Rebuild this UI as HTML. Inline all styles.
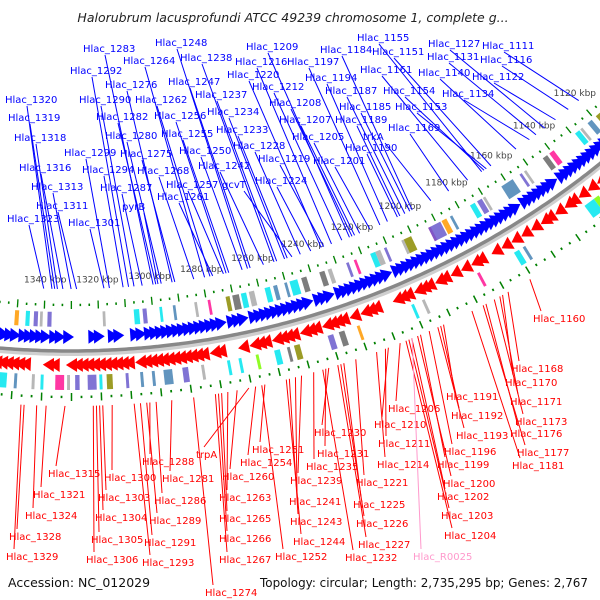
<!DOCTYPE html>
<html><head><meta charset="utf-8"><style>
html,body{margin:0;padding:0;background:#fff;}
svg{display:block;}
text{font-family:"DejaVu Sans","Liberation Sans",sans-serif;}
</style></head><body>
<svg id="chart" width="600" height="600" viewBox="0 0 600 600">
<text x="293" y="22" text-anchor="middle" font-size="12.5" font-style="italic" fill="#222">Halorubrum lacusprofundi ATCC 49239 chromosome 1, complete g...</text>
<text x="8" y="587" font-size="12.5" fill="#111">Accession: NC_012029</text>
<text x="260" y="587" font-size="12.5" fill="#111" textLength="328" lengthAdjust="spacingAndGlyphs">Topology: circular; Length: 2,735,295 bp; Genes: 2,767</text>
</svg>
<script>
// ---- data ----
const blueGenes=[1354,1352,1350,1347,1345,1343,1341,1339,1336,1334,1331,1322,1320,1315,1313,1307,1305,1302,1300,1298,1296,1294,1292,1290,1288,1286,1284,1282,1280,1278,1276,1272,1270,1268,1264,1262,1260,1258,1256,1254,1252,1250,1248,1246,1244,1240,1238,1236,1232,1230,1228,1226,1224,1222,1220,1218,1216,1214,1210,1208,1206,1204,1202,1200,1198,1196,1194,1192,1190,1188,1186,1184,1182,1180,1178,1176,1174,1172,1170,1168,1166,1164,1162,1158,1156,1154,1152,1150,1148,1146,1142,1140,1138,1136,1134,1132,1130,1128,1126,1124,1122,1120,1118,1116,1114];
const redGenes=[1356,1354,1352,1350,1348,1346,1338,1336,1330,1328,1326,1324,1322,1320,1318,1316,1314,1312,1310,1306,1304,1302,1300,1298,1296,1294,1292,1290,1288,1286,1284,1280,1278,1270,1266,1264,1262,1258,1256,1254,1252,1248,1246,1244,1240,1238,1236,1234,1230,1226,1224,1222,1214,1212,1210,1206,1204,1202,1198,1196,1192,1188,1184,1182,1176,1172,1168,1164,1160,1156,1154,1150,1146,1144,1140,1136,1132,1128,1124,1120,1116];
const boxColors=["#00e5ee","#4682b4","#aaaaaa","#6a5acd","#ff1493","#8b8b00","#666666","#9090d0","#ff9900","#7cfc00"];
const blueBoxes=[[1350,1.5,8],[1346,1.5,0],[1343,1.5,3],[1341,1,2],[1338,1.5,3],[1318,1,2],[1306,2,0],[1303,1.5,3],[1297,1,0],[1292,1,1],[1284,1,2],[1279,1,4],[1272,1.5,5],[1269,2.5,6],[1266,2,0],[1263,2,2],[1257,2,0],[1254,1.5,1],[1250,1,1],[1247,3,0],[1243,2,6],[1236,2,6],[1233,1.5,2],[1226,1,3],[1223,1,4],[1216,2,0],[1214,2,2],[1211,1,3],[1204,1,2],[1202,3,5],[1193,1,4],[1191,5,3],[1187,2,8],[1184,1,1],[1175,2,0],[1172,2,3],[1170,1,2],[1160,5,1],[1154,1,3],[1152,1,2],[1143,2,6],[1140,2,4],[1128,2,0],[1126,1,2],[1122,2,1],[1118,2,5],[1114,1,1]];
const redBoxes=[[1354,4,0],[1349,1,1],[1343,1,2],[1340,1,0],[1334,3,4],[1331,1,2],[1328,1.5,3],[1323,3,3],[1320,1,0],[1317,2,5],[1311,1,3],[1306,1,1],[1302,1,1],[1297,3,1],[1291,2,3],[1285,1,2],[1276,1,0],[1272,1,0],[1266,1,9],[1259,2,0],[1255,1,6],[1252,2,5],[1240,2,3],[1236,2,6],[1230,1,8],[1210,1,0],[1206,1,2],[1185,1,4],[1170,2,0],[1167,1,1],[1140,4,0],[1137,2,9]];
const blueLabels=[["Hlac_1283",1283],["Hlac_1248",1248],["Hlac_1209",1209],["Hlac_1184",1184],["Hlac_1155",1155],["Hlac_1127",1127],["Hlac_1111",1111],["Hlac_1264",1264],["Hlac_1238",1238],["Hlac_1216",1216],["Hlac_1197",1197],["Hlac_1151",1151],["Hlac_1131",1131],["Hlac_1116",1116],["Hlac_1292",1292],["Hlac_1220",1220],["Hlac_1194",1194],["Hlac_1161",1161],["Hlac_1140",1140],["Hlac_1122",1122],["Hlac_1276",1276],["Hlac_1247",1247],["Hlac_1212",1212],["Hlac_1187",1187],["Hlac_1154",1154],["Hlac_1134",1134],["Hlac_1320",1320],["Hlac_1290",1290],["Hlac_1262",1262],["Hlac_1237",1237],["Hlac_1208",1208],["Hlac_1185",1185],["Hlac_1153",1153],["Hlac_1319",1319],["Hlac_1282",1282],["Hlac_1256",1256],["Hlac_1234",1234],["Hlac_1207",1207],["Hlac_1189",1189],["Hlac_1169",1169],["Hlac_1318",1318],["Hlac_1280",1280],["Hlac_1255",1255],["Hlac_1233",1233],["Hlac_1205",1205],["trkA",1188],["Hlac_1228",1228],["Hlac_1190",1190],["Hlac_1299",1299],["Hlac_1275",1275],["Hlac_1250",1250],["Hlac_1219",1219],["Hlac_1201",1201],["Hlac_1316",1316],["Hlac_1294",1294],["Hlac_1268",1268],["Hlac_1242",1242],["Hlac_1224",1224],["Hlac_1313",1313],["Hlac_1287",1287],["Hlac_1257",1257],["gcvT",1245],["Hlac_1261",1261],["pyrB",1297],["Hlac_1311",1311],["Hlac_1301",1301],["Hlac_1323",1323]];
const redLabels=[["Hlac_1160",1160],["Hlac_1168",1168],["Hlac_1170",1170],["Hlac_1191",1191],["Hlac_1171",1171],["Hlac_1206",1206],["Hlac_1192",1192],["Hlac_1173",1173],["Hlac_1210",1210],["Hlac_1176",1176],["Hlac_1230",1230],["Hlac_1193",1193],["Hlac_1211",1211],["Hlac_1251",1251],["Hlac_1196",1196],["Hlac_1177",1177],["Hlac_1231",1231],["trpA",1271],["Hlac_1254",1254],["Hlac_1214",1214],["Hlac_1199",1199],["Hlac_1181",1181],["Hlac_1288",1288],["Hlac_1235",1235],["Hlac_1315",1315],["Hlac_1300",1300],["Hlac_1281",1281],["Hlac_1260",1260],["Hlac_1239",1239],["Hlac_1221",1221],["Hlac_1200",1200],["Hlac_1321",1321],["Hlac_1303",1303],["Hlac_1286",1286],["Hlac_1263",1263],["Hlac_1202",1202],["Hlac_1241",1241],["Hlac_1225",1225],["Hlac_1324",1324],["Hlac_1304",1304],["Hlac_1289",1289],["Hlac_1265",1265],["Hlac_1243",1243],["Hlac_1226",1226],["Hlac_1203",1203],["Hlac_1328",1328],["Hlac_1305",1305],["Hlac_1291",1291],["Hlac_1266",1266],["Hlac_1244",1244],["Hlac_1227",1227],["Hlac_1204",1204],["Hlac_1329",1329],["Hlac_1306",1306],["Hlac_1293",1293],["Hlac_1267",1267],["Hlac_1252",1252],["Hlac_1232",1232],["Hlac_R0025",1214.5],["Hlac_1274",1274]];
const tickLabels=[1120,1140,1160,1180,1200,1220,1240,1260,1280,1300,1320,1340];
// ---- layout ----
const blueLabelPos=[[83,52],[155,46],[246,50],[320,53],[357,41],[428,47],[482,49],[123,64],[180,61],[235,65],[287,65],[372,55],[427,60],[480,63],[70,74],[227,78],[305,81],[360,73],[418,76],[472,80],[105,88],[168,85],[252,90],[325,94],[383,94],[442,97],[5,103],[79,103],[135,103],[195,98],[269,106],[339,110],[395,110],[8,121],[96,120],[154,119],[207,115],[279,123],[335,123],[388,131],[14,141],[105,139],[161,137],[216,133],[292,140],[363,140],[233,149],[345,151],[64,156],[120,157],[179,154],[258,162],[313,164],[19,171],[82,173],[137,174],[198,169],[255,184],[31,190],[100,191],[166,188],[222,188],[157,200],[122,210],[36,209],[68,226],[7,222]];
const redLabelPos=[[533,322],[511,372],[505,386],[446,400],[510,405],[388,412],[451,419],[515,425],[374,428],[510,437],[314,436],[456,439],[378,447],[252,453],[444,455],[517,456],[317,457],[196,458],[240,466],[377,468],[437,468],[512,469],[142,465],[306,470],[48,477],[104,481],[162,482],[222,480],[290,484],[356,486],[443,487],[33,498],[98,501],[154,504],[219,501],[437,500],[289,505],[353,508],[25,519],[95,521],[149,524],[219,522],[290,525],[356,527],[441,519],[9,540],[91,543],[144,546],[219,542],[293,545],[358,548],[444,539],[6,560],[86,563],[142,566],[219,563],[275,560],[345,561],[413,560],[205,596]];
const CX=70,CY=-492,R=843;
function ang(p){return -0.032+(1340-p)*0.00337;}
function tagKbp(t){return 1120+(t-1111)*1.04;}
function pt(p,r){const a=ang(p);return [CX+r*Math.sin(a),CY+r*Math.cos(a)];}
function ptA(a,r){return [CX+r*Math.sin(a),CY+r*Math.cos(a)];}
const NS="http://www.w3.org/2000/svg";
const svg=document.getElementById('chart');
function mk(tag,attrs,parent){const e=document.createElementNS(NS,tag);for(const k in attrs)e.setAttribute(k,attrs[k]);(parent||svg).appendChild(e);return e;}
const g=mk('g',{});


let d='';
for(let a=-0.12;a<=0.8;a+=0.005){const q=ptA(a,R);d+=(d?'L':'M')+q[0].toFixed(1)+','+q[1].toFixed(1);}
const bs=mk('path',{d:d,stroke:'#cfcfcf',"stroke-width":6,fill:'none',transform:'translate(0,2)'},g);


const bb=mk('path',{d:d,stroke:'#888',"stroke-width":3.5,fill:'none'},g);


function quad(p1,p2,r1,r2){const a=pt(p1,r1),b=pt(p2,r1),c=pt(p2,r2),e=pt(p1,r2);return 'M'+a+'L'+b+'L'+c+'L'+e+'Z';}
for(let p=1100;p<=1370;p+=10/3){
  const major=Math.abs(p-Math.round(p/10)*10)<0.01;
  [R-46,R+46].forEach(function(r){
    const t=mk('path',{d:major?quad(p-0.25,p+0.25,r-4,r+4):quad(p-0.3,p+0.3,r-1.2,r+1.2),fill:'#008000'},g);
    
    
  });
}
tickLabels.forEach(function(k){
  const q=pt(k,R-68);
  const t=mk('text',{x:q[0],y:q[1],"font-size":9,fill:'#444',"text-anchor":'middle'},g);
  t.textContent=k+' kbp';
  
  
});
blueBoxes.forEach(function(b){
  const e=mk('path',{d:quad(b[0]-b[1]/2,b[0]+b[1]/2,R-39,R-24),fill:boxColors[b[2]],opacity:0.85},g);
  
  
});
redBoxes.forEach(function(b){
  const e=mk('path',{d:quad(b[0]-b[1]/2,b[0]+b[1]/2,R+24,R+39),fill:boxColors[b[2]],opacity:0.85},g);
  
  
});
function arrow(p,r,dir,col){const a=ang(p),h=0.0065;const b1=ptA(a-dir*h,r-7),b2=ptA(a-dir*h,r+7),tp=ptA(a+dir*h,r);return mk('path',{d:'M'+b1+'L'+tp+'L'+b2+'Z',fill:col},g);}
blueGenes.forEach(function(p){
  const e=arrow(p,R-14,1,'#0000ff');
  
  
});
redGenes.forEach(function(p){
  const e=arrow(p,R+14,-1,'#ff0000');
  
  
});
blueLabels.forEach(function(l,i){
  const pos=blueLabelPos[i];const k=/^Hlac/.test(l[0])?tagKbp(l[1]):l[1];
  const q=pt(k,R-62);
  const ln=mk('line',{x1:pos[0]+22,y1:pos[1]+3,x2:q[0],y2:q[1],stroke:'#0000ff',"stroke-width":1},g);
  
  
  const t=mk('text',{x:pos[0],y:pos[1],"font-size":10,fill:'#0000ff'},g);
  t.textContent=l[0];
  
  
});
redLabels.forEach(function(l,i){
  const pos=redLabelPos[i];const k=/^Hlac_1/.test(l[0])?tagKbp(l[1]):l[1];
  const col=l[0]==='Hlac_R0025'?'#ff99cc':'#ff0000';
  const q=pt(k,R+55);
  const ln=mk('line',{x1:q[0],y1:q[1],x2:pos[0]+8,y2:pos[1]-11,stroke:col,"stroke-width":1},g);
  
  
  const t=mk('text',{x:pos[0],y:pos[1],"font-size":10,fill:col},g);
  t.textContent=l[0];
  
  
});
</script>
</body></html>
